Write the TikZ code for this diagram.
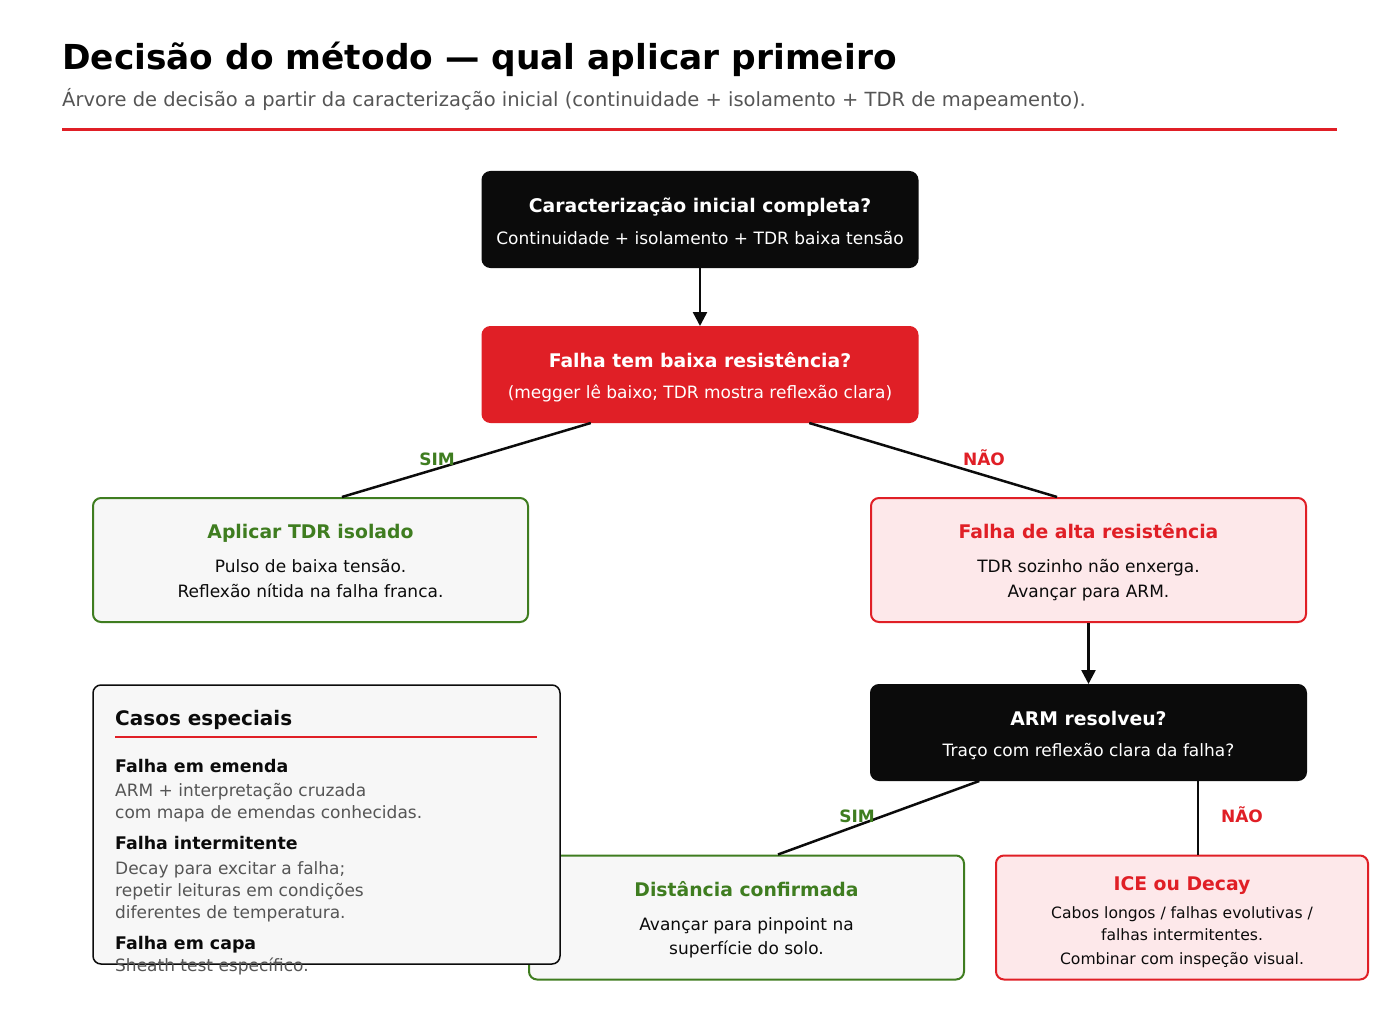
\documentclass[tikz,border=0pt]{standalone}
\usepackage{fontspec}
\setmainfont{DejaVu Sans}
\usetikzlibrary{arrows.meta,calc}

\definecolor{ink}{HTML}{0B0B0B}
\definecolor{alarm}{HTML}{E01F26}
\definecolor{okgreen}{HTML}{3F7D20}
\definecolor{rose}{HTML}{FDE8EA}
\definecolor{paper}{HTML}{F7F7F7}
\definecolor{muted}{HTML}{555555}

\newcommand\setfs[2]{\fontsize{#1}{#2}\selectfont}

\tikzset{
    box/.style={rectangle, rounded corners=8pt, line width=2pt, inner sep=0pt, minimum width=435pt, minimum height=124pt},
    qbox/.style={box, minimum height=95pt},
    txt/.style={anchor=base, inner sep=0pt},
    head/.style={txt, font=\setfs{18.8}{22}\bfseries},
    body/.style={txt, font=\setfs{17}{20}},
    small/.style={txt, font=\setfs{15.6}{18}},
    lab/.style={txt, font=\setfs{17}{20}\bfseries},
    side/.style={anchor=base west, inner sep=0pt, font=\setfs{17}{20}, text=muted},
    sidehead/.style={anchor=base west, inner sep=0pt, font=\setfs{17.4}{20}\bfseries, text=ink},
    flow/.style={line width=2.5pt, draw=ink},
    tip/.style={-{Triangle[length=14pt,width=14pt]}}
}

\begin{document}
\begin{tikzpicture}[x=1pt, y=-1pt]
    \useasboundingbox[fill=white] (0,0) rectangle (1400,1027);

    \node[anchor=base west, inner sep=0pt, font=\setfs{34.4}{38}\bfseries] (title) at (62,70) {Decisão do método — qual aplicar primeiro};
    \node[anchor=base west, inner sep=0pt, font=\setfs{19.5}{22}, text=muted] (subtitle) at (62,106.5) {Árvore de decisão a partir da caracterização inicial (continuidade + isolamento + TDR de mapeamento).};
    \draw[alarm, line width=3pt] (62,130) -- (1337,130);

    \node[qbox, fill=ink, draw=ink] (init) at (700,219.5) {};
    \node[head, text=white] (initt) at (700,212.5) {Caracterização inicial completa?};
    \node[body, text=white] (inits) at (700,244) {Continuidade + isolamento + TDR baixa tensão};

    \node[qbox, fill=alarm, draw=alarm] (lowres) at (700,374.5) {};
    \node[head, text=white] (lowrest) at (700,367.5) {Falha tem baixa resistência?};
    \node[body, text=white] (lowress) at (700,398) {(megger lê baixo; TDR mostra reflexão clara)};

    \node[box, fill=paper, draw=okgreen] (tdr) at (310.5,560) {};
    \node[head, text=okgreen] (tdrt) at (310.5,538.5) {Aplicar TDR isolado};
    \node[body, text=ink] (tdr1) at (310.5,572.5) {Pulso de baixa tensão.};
    \node[body, text=ink] (tdr2) at (310.5,597.5) {Reflexão nítida na falha franca.};

    \node[box, fill=rose, draw=alarm] (highres) at (1088.5,560) {};
    \node[head, text=alarm] (highrest) at (1088.5,538.5) {Falha de alta resistência};
    \node[body, text=ink] (highres1) at (1088.5,572.5) {TDR sozinho não enxerga.};
    \node[body, text=ink] (highres2) at (1088.5,597.5) {Avançar para ARM.};

    \node[qbox, fill=ink, draw=ink] (arm) at (1088.5,732.5) {};
    \node[head, text=white] (armt) at (1088.5,725.5) {ARM resolveu?};
    \node[body, text=white] (arms) at (1088.5,756.5) {Traço com reflexão clara da falha?};

    \node[box, fill=paper, draw=okgreen] (dist) at (746.5,917.5) {};
    \node[head, text=okgreen] (distt) at (746.5,896.5) {Distância confirmada};
    \node[body, text=ink] (dist1) at (746.5,930.5) {Avançar para pinpoint na};
    \node[body, text=ink] (dist2) at (746.5,954.5) {superfície do solo.};

    \node[box, fill=rose, draw=alarm, minimum width=372pt] (ice) at (1182,917.5) {};
    \node[head, text=alarm] (icet) at (1182,890.5) {ICE ou Decay};
    \node[small, text=ink] (ice1) at (1182,918.5) {Cabos longos / falhas evolutivas /};
    \node[small, text=ink] (ice2) at (1182,940.5) {falhas intermitentes.};
    \node[small, text=ink] (ice3) at (1182,964.5) {Combinar com inspeção visual.};

    \draw[flow, tip] (init.south) -- (lowres.north);
    \draw[flow] ($(lowres.south west)!.25!(lowres.south east)$) -- ($(tdr.north west)!.572!(tdr.north east)$);
    \draw[flow] ($(lowres.south west)!.75!(lowres.south east)$) -- ($(highres.north west)!.428!(highres.north east)$);
    \node[lab, text=okgreen] (yes1) at (437,465) {SIM};
    \node[lab, text=alarm] (no1) at (984,465) {NÃO};
    \draw[flow, tip] (highres.south) -- (arm.north);
    \draw[flow] ($(arm.south west)!.25!(arm.south east)$) -- ($(dist.north west)!.572!(dist.north east)$);
    \coordinate (armno) at ($(arm.south west)!.75!(arm.south east)$);
    \draw[flow] (armno) -- (armno |- ice.north);
    \node[lab, text=okgreen] (yes2) at (857,822) {SIM};
    \node[lab, text=alarm] (no2) at (1242,822) {NÃO};

    \node[rectangle, rounded corners=8pt, line width=1.5pt, fill=paper, draw=ink, minimum width=467pt, minimum height=279pt] (special) at (326.5,824.5) {};
    \node[anchor=base west, inner sep=0pt, font=\setfs{20}{22}\bfseries, text=ink] (specialt) at (115,725) {Casos especiais};
    \draw[alarm, line width=2pt] (115,737) -- (537,737);
    \node[sidehead] (c1) at (115,772.5) {Falha em emenda};
    \node[side] (c1a) at (115,796) {ARM + interpretação cruzada};
    \node[side] (c1b) at (115,818) {com mapa de emendas conhecidas.};
    \node[sidehead] (c2) at (115,849.5) {Falha intermitente};
    \node[side] (c2a) at (115,874) {Decay para excitar a falha;};
    \node[side] (c2b) at (115,896) {repetir leituras em condições};
    \node[side] (c2c) at (115,918) {diferentes de temperatura.};
    \node[sidehead] (c3) at (115,949.5) {Falha em capa};
    \node[side] (c3a) at (115,971) {Sheath test específico.};
\end{tikzpicture}
\end{document}
